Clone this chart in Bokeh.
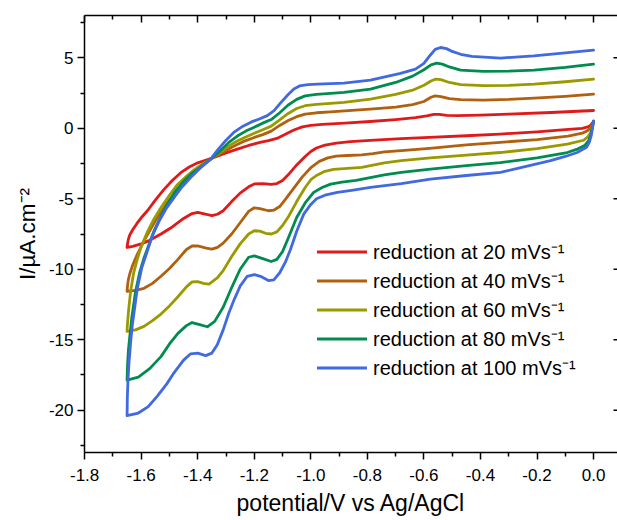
from bokeh.plotting import figure
from bokeh.models import (Range1d, LinearAxis, FixedTicker, NumeralTickFormatter, Legend, LegendItem,
                          CustomLabelingPolicy)
from bokeh.embed import file_html
from bokeh.resources import INLINE

# ---------------- data ----------------
x_ticks = [-1.8, -1.6, -1.4, -1.2, -1.0, -0.8, -0.6, -0.4, -0.2, 0.0]
x_minor = [-1.7, -1.5, -1.3, -1.1, -0.9, -0.7, -0.5, -0.3, -0.1]
y_ticks = [-20, -15, -10, -5, 0, 5]
y_minor = [-22.5, -17.5, -12.5, -7.5, -2.5, 2.5, 7.5]

labels = ["reduction at 20 mVs\u207b\u00b9", "reduction at 40 mVs\u207b\u00b9",
          "reduction at 60 mVs\u207b\u00b9", "reduction at 80 mVs\u207b\u00b9",
          "reduction at 100 mVs\u207b\u00b9"]
colors = ["#e01a1a", "#b0600f", "#9a9a00", "#008c4f", "#4169e1"]

# 20 mV/s : forward (reduction) sweep 0 -> -1.65 V, then reverse sweep -1.65 -> 0 V
red_lower_x = [0.0, -0.004, -0.01, -0.02, -0.04, -0.1, -0.2, -0.33, -0.45, -0.58, -0.68, -0.79, -0.86, -0.91,
               -0.95, -0.98, -1.00, -1.02, -1.05, -1.08, -1.10, -1.12, -1.14, -1.17, -1.20, -1.22, -1.25,
               -1.28, -1.31, -1.33, -1.35, -1.37, -1.40, -1.42, -1.45, -1.49, -1.53, -1.57, -1.60, -1.63, -1.65]
red_lower_y = [0.5, 0.38, 0.22, 0.1, 0.0, -0.1, -0.25, -0.41, -0.53, -0.65, -0.74, -0.86, -0.95, -1.05,
               -1.2, -1.4, -1.65, -2.0, -2.6, -3.3, -3.7, -3.92, -3.98, -3.92, -3.95, -4.15, -4.6,
               -5.2, -5.85, -6.1, -6.2, -6.1, -5.97, -6.05, -6.4, -7.0, -7.5, -7.95, -8.2, -8.38, -8.45]
red_upper_x = [-1.65, -1.648, -1.645, -1.64, -1.63, -1.615, -1.60, -1.578, -1.55, -1.52, -1.49, -1.46, -1.43,
               -1.40, -1.37, -1.34, -1.30, -1.26, -1.22, -1.18, -1.15, -1.12, -1.09, -1.06, -1.03, -1.0,
               -0.96, -0.88, -0.79, -0.70, -0.63, -0.59, -0.565, -0.545, -0.52, -0.48, -0.4, -0.3, -0.15, 0.0]
red_upper_y = [-8.45, -8.15, -7.85, -7.55, -7.2, -6.75, -6.35, -5.85, -5.1, -4.35, -3.7, -3.15, -2.75,
               -2.45, -2.25, -2.05, -1.75, -1.48, -1.22, -1.0, -0.88, -0.72, -0.42, -0.12, 0.1, 0.2,
               0.28, 0.37, 0.48, 0.62, 0.75, 0.88, 0.98, 0.98, 0.92, 0.9, 0.93, 1.0, 1.12, 1.26]

# 40 mV/s
brown_lower_x = [0.0, -0.004, -0.01, -0.02, -0.04, -0.09, -0.2, -0.33, -0.45, -0.58, -0.68, -0.74, -0.78,
                 -0.82, -0.87, -0.91, -0.94, -0.97, -1.00, -1.03, -1.06, -1.09, -1.11, -1.13, -1.15, -1.18,
                 -1.20, -1.22, -1.25, -1.28, -1.31, -1.33, -1.35, -1.37, -1.40, -1.42, -1.44, -1.47, -1.50,
                 -1.53, -1.56, -1.59, -1.62, -1.65]
brown_lower_y = [0.45, 0.3, 0.05, -0.15, -0.35, -0.55, -0.8, -1.0, -1.18, -1.42, -1.58, -1.68, -1.8,
                 -1.88, -1.93, -1.98, -2.1, -2.35, -2.8, -3.45, -4.25, -5.05, -5.55, -5.8, -5.85, -5.7,
                 -5.64, -5.9, -6.7, -7.5, -8.15, -8.45, -8.57, -8.5, -8.35, -8.35, -8.6, -9.3, -9.95,
                 -10.5, -11.0, -11.35, -11.5, -11.57]
brown_upper_x = [-1.65, -1.648, -1.645, -1.64, -1.63, -1.615, -1.59, -1.565, -1.543, -1.51, -1.484, -1.455,
                 -1.425, -1.39, -1.354, -1.32, -1.28, -1.24, -1.20, -1.17, -1.14, -1.11, -1.08, -1.05, -1.02,
                 -0.98, -0.93, -0.88, -0.79, -0.70, -0.64, -0.60, -0.575, -0.56, -0.54, -0.51, -0.47, -0.39,
                 -0.3, -0.21, -0.1, 0.0]
brown_upper_y = [-11.57, -11.1, -10.7, -10.3, -9.7, -9.0, -7.98, -7.1, -6.33, -5.35, -4.67, -3.95,
                 -3.3, -2.7, -2.19, -1.8, -1.35, -0.95, -0.65, -0.45, -0.2, 0.2, 0.55, 0.82, 1.0,
                 1.1, 1.17, 1.24, 1.36, 1.5, 1.68, 1.9, 2.2, 2.3, 2.25, 2.1, 2.03, 2.0,
                 2.05, 2.14, 2.27, 2.42]

# 60 mV/s
olive_lower_x = [0.0, -0.004, -0.01, -0.02, -0.035, -0.093, -0.2, -0.33, -0.45, -0.577, -0.68, -0.74, -0.78,
                 -0.82, -0.87, -0.92, -0.95, -0.98, -1.00, -1.02, -1.05, -1.08, -1.10, -1.12, -1.14, -1.16,
                 -1.18, -1.20, -1.22, -1.25, -1.28, -1.31, -1.33, -1.36, -1.38, -1.40, -1.42, -1.44, -1.47,
                 -1.50, -1.53, -1.56, -1.59, -1.62, -1.65]
olive_lower_y = [0.45, 0.2, -0.3, -0.6, -0.85, -1.12, -1.45, -1.72, -1.9, -2.1, -2.3, -2.45, -2.62,
                 -2.78, -2.85, -2.92, -3.05, -3.35, -3.65, -4.2, -5.2, -6.3, -6.9, -7.35, -7.5, -7.45,
                 -7.3, -7.27, -7.5, -8.2, -9.1, -10.1, -10.6, -11.05, -11.0, -10.88, -10.9, -11.25, -11.95,
                 -12.6, -13.18, -13.65, -14.05, -14.3, -14.41]
olive_upper_x = [-1.65, -1.649, -1.647, -1.644, -1.637, -1.627, -1.614, -1.60, -1.578, -1.555, -1.531, -1.50,
                 -1.472, -1.44, -1.413, -1.38, -1.354, -1.32, -1.29, -1.26, -1.23, -1.20, -1.17, -1.14,
                 -1.11, -1.08, -1.05, -1.02, -0.98, -0.93, -0.883, -0.789, -0.70, -0.64, -0.60, -0.575,
                 -0.56, -0.54, -0.51, -0.47, -0.39, -0.3, -0.21, -0.1, 0.0]
olive_upper_y = [-14.41, -14.0, -13.5, -12.8, -11.5, -10.3, -9.3, -8.4, -7.35, -6.45, -5.65, -4.75,
                 -4.0, -3.4, -2.95, -2.5, -2.19, -1.7, -1.25, -0.9, -0.62, -0.35, -0.1, 0.15,
                 0.6, 1.05, 1.4, 1.6, 1.7, 1.77, 1.83, 2.07, 2.4, 2.7, 3.05, 3.35,
                 3.48, 3.45, 3.25, 3.1, 3.02, 3.05, 3.13, 3.3, 3.49]

# 80 mV/s
green_lower_x = [0.0, -0.004, -0.01, -0.018, -0.03, -0.06, -0.093, -0.2, -0.33, -0.45, -0.577, -0.68, -0.74,
                 -0.79, -0.84, -0.89, -0.93, -0.96, -0.99, -1.02, -1.05, -1.08, -1.10, -1.12, -1.14, -1.17,
                 -1.20, -1.22, -1.25, -1.28, -1.31, -1.34, -1.366, -1.39, -1.42, -1.44, -1.47, -1.50, -1.53,
                 -1.57, -1.61, -1.65]
green_lower_y = [0.45, 0.1, -0.5, -0.9, -1.2, -1.5, -1.72, -2.1, -2.43, -2.65, -2.9, -3.13, -3.3,
                 -3.5, -3.7, -3.82, -3.96, -4.2, -4.55, -5.3, -6.33, -7.8, -8.75, -9.3, -9.45, -9.25,
                 -9.05, -9.15, -10.0, -11.3, -12.7, -13.7, -14.08, -13.95, -13.78, -14.0, -14.55, -15.3, -16.2,
                 -17.05, -17.65, -17.86]
green_upper_x = [-1.65, -1.649, -1.648, -1.645, -1.64, -1.633, -1.62, -1.605, -1.59, -1.555, -1.53, -1.508,
                 -1.48, -1.449, -1.42, -1.39, -1.354, -1.32, -1.29, -1.26, -1.23, -1.20, -1.166, -1.14,
                 -1.11, -1.08, -1.05, -1.02, -0.98, -0.93, -0.883, -0.789, -0.70, -0.64, -0.60, -0.575,
                 -0.555, -0.535, -0.51, -0.47, -0.39, -0.3, -0.21, -0.1, 0.0]
green_upper_y = [-17.86, -17.3, -16.7, -15.7, -14.7, -13.4, -11.6, -10.2, -9.2, -7.3, -6.25, -5.4,
                 -4.5, -3.75, -3.2, -2.75, -2.19, -1.6, -1.0, -0.55, -0.2, 0.08, 0.4, 0.62,
                 1.1, 1.65, 2.05, 2.3, 2.4, 2.47, 2.54, 2.78, 3.25, 3.7, 4.15, 4.5,
                 4.62, 4.55, 4.35, 4.12, 4.03, 4.05, 4.13, 4.32, 4.55]

# 100 mV/s
blue_lower_x = [0.0, -0.003, -0.008, -0.015, -0.025, -0.058, -0.1, -0.152, -0.25, -0.329, -0.45, -0.577,
                -0.68, -0.789, -0.85, -0.906, -0.95, -0.98, -1.00, -1.025, -1.05, -1.072, -1.09, -1.11,
                -1.131, -1.15, -1.178, -1.20, -1.225, -1.25, -1.27, -1.29, -1.31, -1.331, -1.35, -1.372,
                -1.40, -1.425, -1.45, -1.484, -1.51, -1.543, -1.575, -1.61, -1.65]
blue_lower_y = [0.53, 0.1, -0.5, -1.0, -1.35, -1.72, -2.0, -2.3, -2.75, -3.13, -3.35, -3.6,
                -3.92, -4.2, -4.38, -4.55, -4.75, -5.0, -5.4, -6.09, -7.3, -8.6, -9.5, -10.25,
                -10.75, -10.8, -10.5, -10.38, -10.5, -11.2, -12.1, -13.1, -14.3, -15.35, -15.95, -16.13,
                -15.95, -16.0, -16.45, -17.35, -18.15, -19.0, -19.75, -20.2, -20.39]
blue_upper_x = [-1.65, -1.6495, -1.649, -1.647, -1.643, -1.637, -1.631, -1.614, -1.598, -1.578, -1.56, -1.537,
                -1.51, -1.484, -1.455, -1.425, -1.39, -1.354, -1.33, -1.30, -1.27, -1.24, -1.21, -1.18,
                -1.154, -1.13, -1.107, -1.08, -1.06, -1.04, -1.01, -0.977, -0.883, -0.789, -0.683, -0.63,
                -0.60, -0.577, -0.56, -0.541, -0.52, -0.50, -0.47, -0.43, -0.329, -0.211, -0.1, 0.0]
blue_upper_y = [-20.39, -19.8, -19.1, -18.0, -16.6, -15.1, -13.9, -11.4, -9.9, -8.7, -7.6, -6.6,
                -5.65, -4.92, -4.15, -3.5, -2.8, -2.19, -1.55, -0.85, -0.25, 0.15, 0.45, 0.68,
                0.9, 1.25, 1.8, 2.4, 2.78, 3.0, 3.1, 3.13, 3.2, 3.42, 3.89, 4.2,
                4.6, 5.2, 5.6, 5.73, 5.65, 5.45, 5.25, 5.1, 4.98, 5.14, 5.35, 5.55]

series = [
    (red_lower_x, red_lower_y, red_upper_x, red_upper_y),
    (brown_lower_x, brown_lower_y, brown_upper_x, brown_upper_y),
    (olive_lower_x, olive_lower_y, olive_upper_x, olive_upper_y),
    (green_lower_x, green_lower_y, green_upper_x, green_upper_y),
    (blue_lower_x, blue_lower_y, blue_upper_x, blue_upper_y),
]

# ---------------- figure ----------------
FONT = "Liberation Sans"
X_RANGE = Range1d(-1.8005, 0.0847)
p = figure(width=617, height=520, output_backend="svg", toolbar_location=None,
           x_range=X_RANGE, y_range=Range1d(-23, 8),
           x_axis_type=None, y_axis_type=None,
           min_border_left=84, min_border_right=0, min_border_top=15, min_border_bottom=68)
p.outline_line_color = None
p.background_fill_color = "white"
p.border_fill_color = "white"

no_labels = CustomLabelingPolicy(code="return new Set()")

def style_axis(ax):
    ax.axis_line_color = "black"
    ax.axis_line_width = 1.5
    ax.major_tick_line_color = "black"
    ax.major_tick_line_width = 1.5
    ax.minor_tick_line_color = "black"
    ax.minor_tick_line_width = 1.5
    ax.major_label_text_font = FONT
    ax.major_label_text_font_size = "17px"
    ax.major_label_text_color = "black"
    ax.axis_label_text_font = FONT
    ax.axis_label_text_font_style = "normal"
    ax.axis_label_text_color = "black"

xb = LinearAxis(ticker=FixedTicker(ticks=x_ticks, minor_ticks=x_minor),
                formatter=NumeralTickFormatter(format="0.0"),
                axis_label="potential/V vs Ag/AgCl")
style_axis(xb)
xb.axis_label_text_font_size = "23px"
xb.major_tick_in = 0
xb.major_tick_out = 7
xb.minor_tick_in = 0
xb.minor_tick_out = 4
xb.major_label_standoff = 9
xb.axis_label_standoff = 6
p.add_layout(xb, "below")

yl = LinearAxis(ticker=FixedTicker(ticks=y_ticks, minor_ticks=y_minor),
                formatter=NumeralTickFormatter(format="0"),
                axis_label="I/\u00b5A.cm\u207b\u00b2")
style_axis(yl)
yl.axis_label_text_font_size = "22.5px"
yl.major_tick_in = 0
yl.major_tick_out = 7
yl.minor_tick_in = 0
yl.minor_tick_out = 4
yl.major_label_standoff = 4
yl.axis_label_standoff = 6
p.add_layout(yl, "left")

xt = LinearAxis(ticker=FixedTicker(ticks=x_ticks, minor_ticks=x_minor), major_label_policy=no_labels)
style_axis(xt)
xt.major_label_text_font_size = "1px"
xt.major_label_standoff = 0
xt.major_tick_in = 7
xt.major_tick_out = 0
xt.minor_tick_in = 4
xt.minor_tick_out = 0
p.add_layout(xt, "above")

# stubs of the (cropped) right-hand axis ticks, clipped at the frame edge
p.scatter(x=[X_RANGE.end] * len(y_ticks), y=y_ticks, marker="dash", size=8,
          line_color="black", line_width=1.5)

items = []
for (lx, ly, ux, uy), c, lab in zip(series, colors, labels):
    r = p.line(list(lx) + list(ux), list(ly) + list(uy), line_color=c, line_width=2.8,
               line_join="round", line_cap="round")
    items.append(LegendItem(label=lab, renderers=[r]))

legend = Legend(items=items, location=(233, 70), orientation="vertical",
                label_text_font=FONT, label_text_font_size="20px", label_text_color="black",
                glyph_width=50, glyph_height=29, label_height=29, spacing=0,
                padding=0, margin=0, label_standoff=6,
                border_line_color=None, background_fill_alpha=0)
p.add_layout(legend, "center")

open("out.html", "w").write(file_html(p, INLINE))
